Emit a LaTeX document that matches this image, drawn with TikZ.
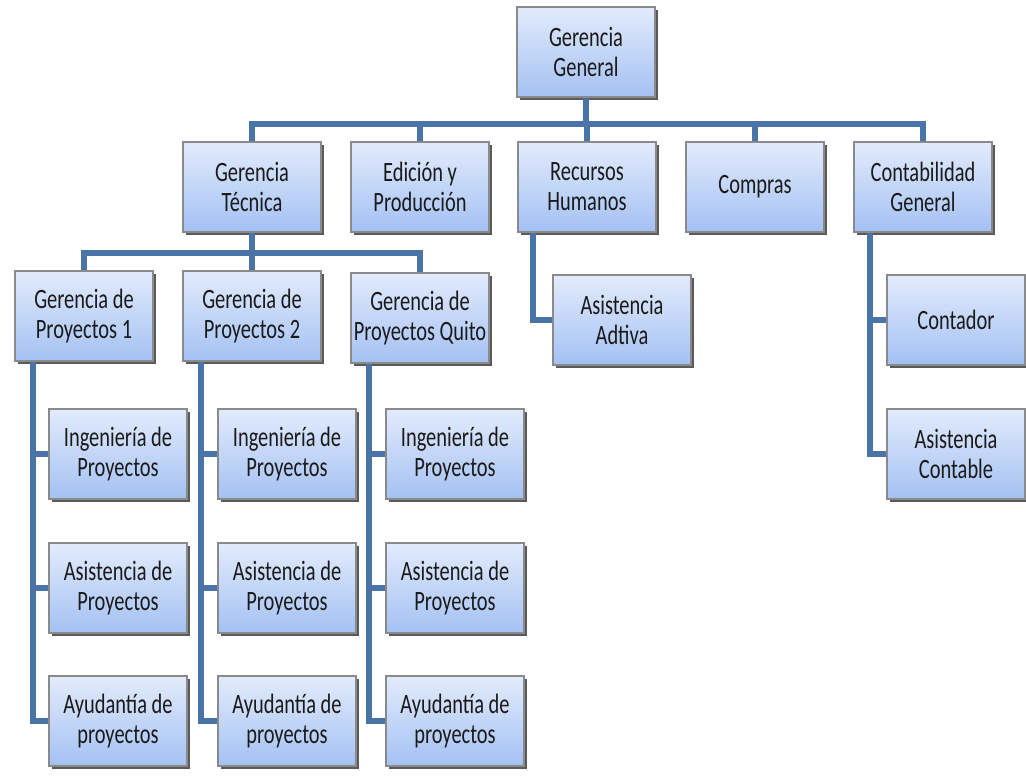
\documentclass[tikz,border=0pt]{standalone}
\usepackage{fontspec}
\setmainfont{Carlito}[FakeStretch=0.73]
\usetikzlibrary{shadows}
\definecolor{linec}{HTML}{4A73A8}
\definecolor{boxtop}{HTML}{E2EBFC}
\definecolor{boxbot}{HTML}{A4C1F3}
\definecolor{boxline}{HTML}{8A8A8A}
\definecolor{shad}{HTML}{5A5A5A}
\definecolor{txt}{HTML}{1A1A1A}
\tikzset{
  orgbox/.style={draw=boxline, line width=1.2pt, top color=boxtop, bottom color=boxbot,
    minimum width=138pt, minimum height=90pt, inner sep=1pt, align=center,
    text=txt, font=\fontsize{28}{30}\selectfont,
    general shadow={fill=shad, shadow xshift=2.5pt, shadow yshift=-3pt}},
  link/.style={draw=linec, line width=6.5pt},
}
\begin{document}
\begin{tikzpicture}[x=1pt,y=-1pt]
\useasboundingbox (0,0) rectangle (1026,777);
\coordinate (bus2) at (0,124);
\coordinate (bus3) at (0,253);
\coordinate (rhx) at (533,0);
\coordinate (cgx) at (870,0);
\coordinate (p1x) at (33,0);
\coordinate (p2x) at (201,0);
\coordinate (p3x) at (369,0);
\path (586,52) node[orgbox] (gg) {Gerencia\\General};
\path (252,187) node[orgbox] (gt) {Gerencia\\Técnica};
\path (420,187) node[orgbox] (ep) {Edición y\\Producción};
\path (587,187) node[orgbox] (rh) {Recursos\\Humanos};
\path (755,187) node[orgbox] (co) {Compras};
\path (923,187) node[orgbox] (cg) {Contabilidad\\General};
\path (84,316) node[orgbox] (gp1) {Gerencia de\\Proyectos 1};
\path (252,316) node[orgbox] (gp2) {Gerencia de\\Proyectos 2};
\path (420,318) node[orgbox] (gp3) {Gerencia de\\Proyectos Quito};
\path (622,320) node[orgbox] (aa) {Asistencia\\Adtiva};
\path (956,320) node[orgbox] (ct) {Contador};
\path (956,454) node[orgbox] (ac) {Asistencia\\Contable};
\foreach \n/\x in {1/118,2/287,3/455}{
  \path (\x,454) node[orgbox] (ing\n) {Ingeniería de\\Proyectos};
  \path (\x,588) node[orgbox] (asi\n) {Asistencia de\\Proyectos};
  \path (\x,721) node[orgbox] (ayu\n) {Ayudantía de\\proyectos};
}
\draw[link] (gg.south) -- (gg.south |- bus2);
\foreach \c in {gt,ep,rh,co,cg}{
  \draw[link] (gg.south |- bus2) -| (\c.north);
}
\draw[link] (gt.south) -- (gt.south |- bus3);
\foreach \c in {gp1,gp2,gp3}{
  \draw[link] (gt.south |- bus3) -| (\c.north);
}
\draw[link] (rh.south -| rhx) |- (aa.west);
\draw[link] (cg.south -| cgx) |- (ct.west);
\draw[link] (cg.south -| cgx) |- (ac.west);
\foreach \n in {1,2,3}{
  \draw[link] (gp\n.south -| p\n x) |- (ing\n.west);
  \draw[link] (gp\n.south -| p\n x) |- (asi\n.west);
  \draw[link] (gp\n.south -| p\n x) |- (ayu\n.west);
}
\end{tikzpicture}
\end{document}
